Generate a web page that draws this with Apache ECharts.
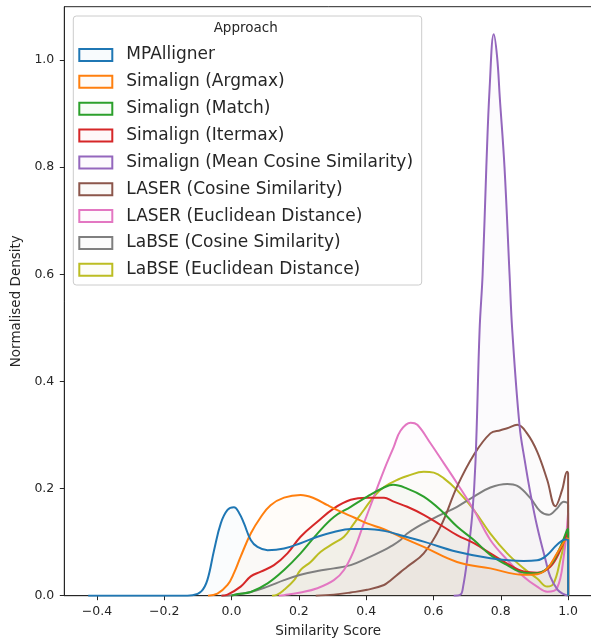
<!DOCTYPE html>
<html>
<head>
<meta charset="utf-8">
<script src="https://cdn.jsdelivr.net/npm/echarts@6/dist/echarts.min.js"></script>
<style>
html,body{margin:0;padding:0;background:#fff;}
#chart{width:591px;height:638px;}
</style>
</head>
<body>
<div id="chart"></div>
<script>
// ---- data ----
const seriesNames = [
  'MPAlligner',
  'Simalign (Argmax)',
  'Simalign (Match)',
  'Simalign (Itermax)',
  'Simalign (Mean Cosine Similarity)',
  'LASER (Cosine Similarity)',
  'LASER (Euclidean Distance)',
  'LaBSE (Cosine Similarity)',
  'LaBSE (Euclidean Distance)'
];
const seriesColors = ['#1f77b4','#ff7f0e','#2ca02c','#d62728','#9467bd','#8c564b','#e377c2','#7f7f7f','#bcbd22'];

const xTickValues = [-0.4, -0.2, 0.0, 0.2, 0.4, 0.6, 0.8, 1.0];
const yTickValues = [0.0, 0.2, 0.4, 0.6, 0.8, 1.0];

const mpX  = [-0.426, -0.15, -0.116, -0.09, -0.072, -0.052, -0.032, -0.012, 0.007, 0.022, 0.037, 0.057, 0.077, 0.107, 0.156, 0.205, 0.255, 0.304, 0.354, 0.403, 0.453, 0.502, 0.571, 0.670, 0.769, 0.868, 0.908, 0.938, 0.967, 0.992, 1.0, 1.0];
const mpY  = [0, 0, 0.001, 0.008, 0.029, 0.085, 0.135, 0.160, 0.165, 0.155, 0.135, 0.104, 0.091, 0.085, 0.088, 0.098, 0.110, 0.119, 0.1245, 0.1245, 0.121, 0.113, 0.101, 0.082, 0.070, 0.065, 0.066, 0.076, 0.095, 0.105, 0.104, 0];

const argX = [-0.07, -0.042, -0.012, 0.007, 0.027, 0.057, 0.087, 0.116, 0.156, 0.205, 0.245, 0.285, 0.324, 0.364, 0.403, 0.453, 0.502, 0.571, 0.670, 0.769, 0.868, 0.908, 0.938, 0.967, 0.992, 1.0, 1.0];
const argY = [0, 0.004, 0.02, 0.042, 0.073, 0.116, 0.147, 0.169, 0.183, 0.188, 0.182, 0.169, 0.157, 0.146, 0.135, 0.124, 0.110, 0.091, 0.063, 0.051, 0.039, 0.040, 0.051, 0.079, 0.104, 0.107, 0];

const matX = [0.0, 0.018, 0.057, 0.107, 0.156, 0.205, 0.255, 0.304, 0.354, 0.403, 0.453, 0.48, 0.522, 0.571, 0.621, 0.670, 0.720, 0.769, 0.819, 0.868, 0.908, 0.947, 0.977, 0.997, 1.0, 1.0];
const matY = [0, 0.003, 0.007, 0.023, 0.048, 0.079, 0.116, 0.147, 0.166, 0.185, 0.202, 0.207, 0.200, 0.185, 0.160, 0.129, 0.104, 0.076, 0.057, 0.043, 0.042, 0.057, 0.091, 0.123, 0.125, 0];

const itX  = [-0.03, -0.012, 0.027, 0.057, 0.087, 0.126, 0.166, 0.205, 0.255, 0.304, 0.354, 0.403, 0.453, 0.48, 0.522, 0.571, 0.621, 0.670, 0.720, 0.769, 0.819, 0.868, 0.908, 0.947, 0.977, 0.997, 1.0, 1.0];
const itY  = [0, 0.002, 0.017, 0.036, 0.045, 0.057, 0.079, 0.110, 0.138, 0.163, 0.179, 0.183, 0.183, 0.176, 0.166, 0.151, 0.132, 0.113, 0.098, 0.079, 0.060, 0.045, 0.043, 0.054, 0.085, 0.116, 0.12, 0];

const mcX  = [0.66, 0.68, 0.688, 0.700, 0.715, 0.725, 0.737, 0.746, 0.757, 0.767, 0.779, 0.789, 0.797, 0.811, 0.826, 0.834, 0.856, 0.871, 0.888, 0.908, 0.933, 0.947, 0.969, 0.987, 1.0, 1.0];
const mcY  = [0, 0.002, 0.017, 0.067, 0.15, 0.253, 0.496, 0.60, 0.80, 0.95, 1.048, 1.006, 0.93, 0.80, 0.60, 0.496, 0.3155, 0.253, 0.191, 0.129, 0.0666, 0.0355, 0.011, 0.003, 0, 0];

const lcX  = [0.25, 0.304, 0.354, 0.403, 0.453, 0.473, 0.502, 0.522, 0.571, 0.621, 0.670, 0.720, 0.769, 0.799, 0.819, 0.849, 0.878, 0.908, 0.938, 0.962, 0.982, 0.997, 1.0, 1.0];
const lcY  = [0, 0.002, 0.006, 0.011, 0.020, 0.029, 0.044, 0.054, 0.079, 0.129, 0.2035, 0.263, 0.303, 0.309, 0.3125, 0.319, 0.303, 0.269, 0.216, 0.167, 0.197, 0.2315, 0.228, 0];

const leX  = [0.14, 0.156, 0.205, 0.255, 0.304, 0.334, 0.364, 0.393, 0.423, 0.453, 0.482, 0.502, 0.532, 0.552, 0.591, 0.631, 0.670, 0.720, 0.769, 0.819, 0.868, 0.908, 0.938, 0.967, 0.987, 1.0, 1.0];
const leY  = [0, 0.001, 0.006, 0.014, 0.029, 0.048, 0.085, 0.135, 0.185, 0.2346, 0.278, 0.308, 0.323, 0.319, 0.2845, 0.247, 0.210, 0.160, 0.104, 0.067, 0.0355, 0.017, 0.0075, 0.014, 0.073, 0.155, 0];

const lbcX = [-0.03, 0.0, 0.057, 0.107, 0.156, 0.205, 0.255, 0.304, 0.354, 0.403, 0.453, 0.473, 0.502, 0.522, 0.571, 0.621, 0.670, 0.720, 0.769, 0.819, 0.849, 0.888, 0.918, 0.942, 0.967, 0.987, 1.0, 1.0];
const lbcY = [0, 0.001, 0.007, 0.017, 0.029, 0.039, 0.046, 0.051, 0.057, 0.070, 0.085, 0.092, 0.104, 0.116, 0.135, 0.151, 0.166, 0.185, 0.202, 0.2085, 0.205, 0.182, 0.157, 0.151, 0.163, 0.1755, 0.17, 0];

const lbeX = [0.12, 0.136, 0.156, 0.186, 0.205, 0.235, 0.265, 0.304, 0.334, 0.364, 0.393, 0.423, 0.453, 0.502, 0.522, 0.571, 0.601, 0.631, 0.670, 0.720, 0.769, 0.819, 0.868, 0.908, 0.938, 0.957, 0.977, 0.997, 1.0, 1.0];
const lbeY = [0, 0.002, 0.011, 0.029, 0.048, 0.063, 0.082, 0.098, 0.110, 0.135, 0.160, 0.185, 0.203, 0.219, 0.2235, 0.2315, 0.2297, 0.219, 0.197, 0.160, 0.116, 0.079, 0.051, 0.032, 0.017, 0.023, 0.067, 0.119, 0.12, 0];

const curvesX = [mpX, argX, matX, itX, mcX, lcX, leX, lbcX, lbeX];
const curvesY = [mpY, argY, matY, itY, mcY, lcY, leY, lbcY, lbeY];

// ---- helpers ----
function rgba(hex, a) {
  const n = parseInt(hex.slice(1), 16);
  return 'rgba(' + ((n >> 16) & 255) + ',' + ((n >> 8) & 255) + ',' + (n & 255) + ',' + a + ')';
}
function fmt(v) {
  const s = Math.abs(v).toFixed(1);
  return v < -1e-9 ? '\u2212' + s : s;
}

const FONT = 'DejaVu Sans';
const TXT = '#262626';
const AXC = '#262626';

// first hue drawn on top (draw in reverse order)
const series = [];
for (let k = seriesNames.length - 1; k >= 0; k--) {
  const xs = curvesX[k], ys = curvesY[k];
  series.push({
    name: seriesNames[k],
    type: 'line',
    data: xs.map((x, i) => [x, ys[i]]),
    showSymbol: false,
    symbol: 'none',
    smooth: 0.4,
    clip: true,
    lineStyle: { color: seriesColors[k], width: 2 },
    itemStyle: { color: seriesColors[k] },
    areaStyle: { color: rgba(seriesColors[k], 0.03), origin: 'start' },
    emphasis: { disabled: true },
    z: 2
  });
}

const chart = echarts.init(document.getElementById('chart'), null, { renderer: 'canvas' });
chart.setOption({
  animation: false,
  backgroundColor: '#ffffff',
  grid: {
    left: 64.3, top: 6.7, right: -1, bottom: 42.3,
    outerBoundsMode: 'none',
    containLabel: false,
    show: true, borderColor: AXC, borderWidth: 1, backgroundColor: 'transparent'
  },
  xAxis: {
    type: 'value',
    min: -0.497, max: 1.071,
    name: 'Similarity Score',
    nameLocation: 'middle',
    nameGap: 28.5,
    nameTextStyle: { fontFamily: FONT, fontSize: 13.5, color: TXT },
    axisLine: { show: true, onZero: false, lineStyle: { color: AXC, width: 1 } },
    axisTick: { show: true, length: 4.5, lineStyle: { color: AXC, width: 1 }, customValues: xTickValues },
    axisLabel: { customValues: xTickValues, formatter: fmt, fontFamily: FONT, fontSize: 12.5, color: TXT, margin: 10 },
    splitLine: { show: false }
  },
  yAxis: {
    type: 'value',
    min: 0, max: 1.0995,
    name: 'Normalised Density',
    nameLocation: 'middle',
    nameGap: 36,
    nameRotate: 90,
    nameTextStyle: { fontFamily: FONT, fontSize: 13.5, color: TXT },
    axisLine: { show: true, onZero: false, lineStyle: { color: AXC, width: 1 } },
    axisTick: { show: true, length: 4.5, lineStyle: { color: AXC, width: 1 }, customValues: yTickValues },
    axisLabel: { customValues: yTickValues, formatter: fmt, fontFamily: FONT, fontSize: 12.5, color: TXT, margin: 10 },
    splitLine: { show: false }
  },
  legend: {
    orient: 'vertical',
    left: 78.3,
    top: 46.5,
    padding: 0,
    itemGap: 9.85,
    itemWidth: 33,
    itemHeight: 12,
    icon: 'rect',
    selectedMode: false,
    textStyle: { fontFamily: FONT, fontSize: 17, color: TXT, lineHeight: 17, padding: [0, 0, 0, 9] },
    data: seriesNames.map((n, i) => ({
      name: n,
      icon: 'rect',
      itemStyle: { color: rgba(seriesColors[i], 0.03), borderColor: seriesColors[i], borderWidth: 2 }
    })),
    z: 10
  },
  graphic: [
    {
      type: 'rect', z: 5,
      shape: { x: 73.3, y: 16, width: 348.4, height: 269, r: 3 },
      style: { fill: 'rgba(255,255,255,0.8)', stroke: '#cccccc', lineWidth: 1 }
    },
    {
      type: 'text', z: 11,
      x: 245.7, y: 28.3,
      style: { text: 'Approach', fontFamily: FONT, fontSize: 13.5, fill: TXT, align: 'center', verticalAlign: 'middle' }
    }
  ],
  series: series
});
</script>
</body>
</html>
